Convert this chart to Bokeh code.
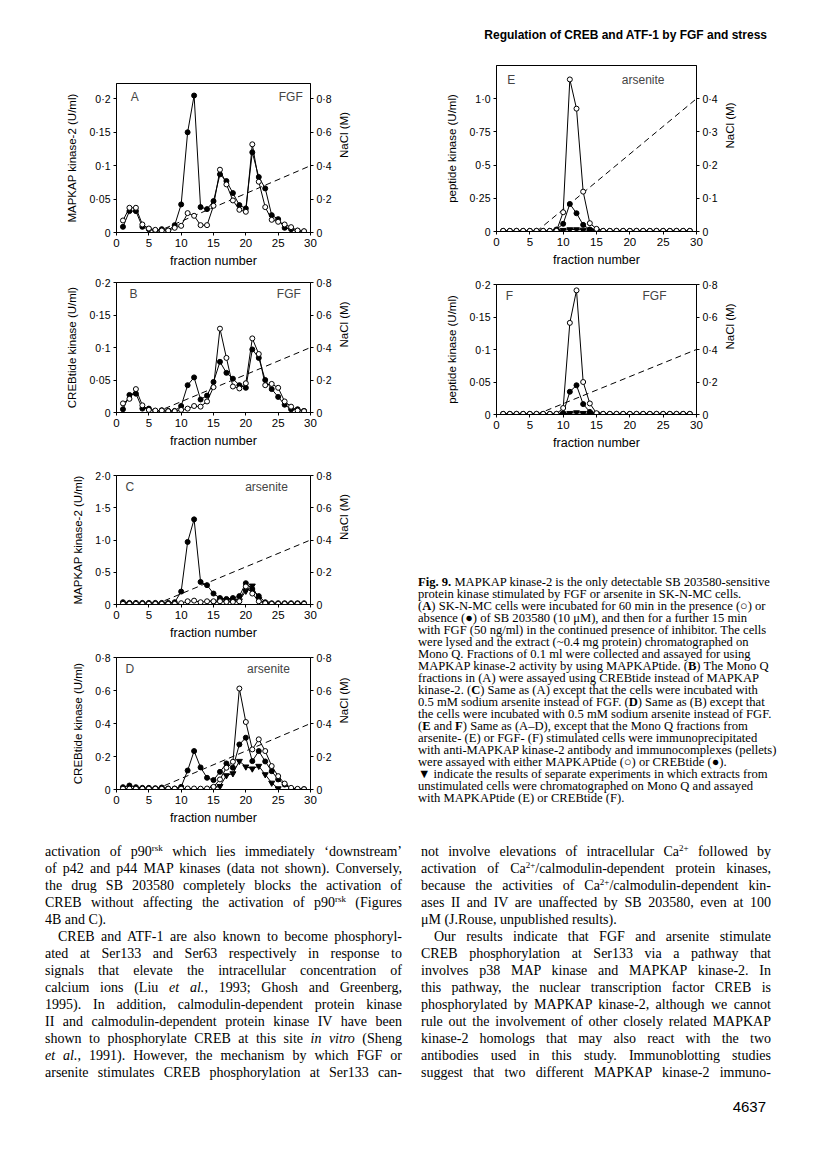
import math
from bokeh.plotting import figure
from bokeh.models import Range1d, LinearAxis, FixedTicker, Label, Div
from bokeh.layouts import column, row
from bokeh.embed import file_html
from bokeh.resources import INLINE

# ---------------- data ----------------
fractions = list(range(1, 30))
nacl_frac = [6, 30]
nacl_conc = [0.0, 0.4]

a_open = [0.018, 0.037, 0.037, 0.012, 0.006, 0.004, 0.003, 0.003, 0.007, 0.010,
          0.029, 0.025, 0.011, 0.011, 0.040, 0.094, 0.072, 0.048, 0.034, 0.031,
          0.132, 0.076, 0.038, 0.019, 0.016, 0.012, 0.008, 0.003, 0.002]
a_filled = [0.0085, 0.032, 0.032, 0.0085, 0.005, 0.003, 0.005, 0.003, 0.011, 0.042,
            0.150, 0.205, 0.038, 0.035, 0.047, 0.087, 0.077, 0.059, 0.041, 0.036,
            0.120, 0.083, 0.066, 0.026, 0.020, 0.007, 0.005, 0.0025, 0.0015]

b_open = [0.014, 0.021, 0.036, 0.011, 0.004, 0.003, 0.003, 0.002, 0.002, 0.004,
          0.006, 0.010, 0.009, 0.017, 0.039, 0.129, 0.084, 0.040, 0.037, 0.045,
          0.114, 0.090, 0.042, 0.044, 0.038, 0.017, 0.009, 0.003, 0.002]
b_filled = [0.005, 0.027, 0.029, 0.006, 0.006, 0.0025, 0.0035, 0.0025, 0.0025, 0.010,
            0.042, 0.054, 0.020, 0.026, 0.047, 0.078, 0.061, 0.052, 0.042, 0.038,
            0.097, 0.084, 0.050, 0.036, 0.024, 0.012, 0.005, 0.005, 0.0025]

c_open = [0.01, 0.01, 0.01, 0.01, 0.01, 0.01, 0.01, 0.01, 0.01, 0.02,
          0.05, 0.06, 0.035, 0.05, 0.05, 0.05, 0.04, 0.04, 0.05, 0.28,
          0.17, 0.05, 0.02, 0.01, 0.01, 0.01, 0.01, 0.01, 0.01]
c_filled = [0.035, 0.025, 0.025, 0.025, 0.025, 0.025, 0.025, 0.025, 0.035, 0.20,
            0.97, 1.32, 0.35, 0.30, 0.17, 0.10, 0.086, 0.10, 0.13, 0.33,
            0.24, 0.13, 0.035, 0.02, 0.02, 0.02, 0.02, 0.02, 0.02]
c_tri_frac = [15, 16, 17, 18, 19, 20, 21, 22, 23]
c_tri = [0.03, 0.05, 0.05, 0.05, 0.06, 0.21, 0.29, 0.08, 0.02]

d_open = [0.005, 0.005, 0.005, 0.005, 0.005, 0.005, 0.005, 0.005, 0.005, 0.005,
          0.006, 0.006, 0.005, 0.006, 0.016, 0.061, 0.132, 0.168, 0.612, 0.409,
          0.243, 0.304, 0.233, 0.142, 0.081, 0.036, 0.010, 0.004, 0.002]
d_filled = [0.014, 0.024, 0.014, 0.010, 0.010, 0.008, 0.012, 0.006, 0.006, 0.016,
            0.115, 0.233, 0.134, 0.071, 0.057, 0.107, 0.158, 0.132, 0.273, 0.314,
            0.172, 0.233, 0.170, 0.111, 0.061, 0.030, 0.004, 0.002, 0.002]
d_tri_frac = [15, 16, 17, 18, 19, 20, 21, 22, 23, 24, 25]
d_tri = [0.01, 0.02, 0.085, 0.097, 0.172, 0.138, 0.126, 0.142, 0.091, 0.04, 0.006]

e_open = [0.005, 0.005, 0.005, 0.005, 0.005, 0.005, 0.005, 0.005, 0.005, 0.145,
          1.145, 0.925, 0.30, 0.0625, 0.02, 0.005, 0.005, 0.005, 0.005, 0.005,
          0.005, 0.005, 0.005, 0.005, 0.005, 0.005, 0.005, 0.005, 0.005]
e_filled = [0.005, 0.005, 0.005, 0.005, 0.005, 0.005, 0.005, 0.005, 0.015, 0.058,
            0.2075, 0.1375, 0.05, 0.015, 0.015, 0.005, 0.005, 0.005, 0.005, 0.005,
            0.005, 0.005, 0.005, 0.005, 0.005, 0.005, 0.005, 0.005, 0.005]
e_tri_frac = [9, 10, 11, 12, 13, 14, 15]
e_tri = [0.005, 0.01, 0.015, 0.015, 0.012, 0.01, 0.005]

f_open = [0.001, 0.001, 0.001, 0.001, 0.001, 0.001, 0.001, 0.001, 0.001, 0.010,
          0.141, 0.191, 0.050, 0.017, 0.002, 0.001, 0.001, 0.001, 0.001, 0.001,
          0.001, 0.001, 0.001, 0.001, 0.001, 0.001, 0.001, 0.001, 0.001]
f_filled = [0.001, 0.001, 0.001, 0.001, 0.001, 0.001, 0.001, 0.001, 0.001, 0.002,
            0.035, 0.045, 0.016, 0.004, 0.001, 0.001, 0.001, 0.001, 0.001, 0.001,
            0.001, 0.001, 0.001, 0.001, 0.001, 0.001, 0.001, 0.001, 0.001]
f_tri_frac = [10, 11, 12, 13, 14, 15]
f_tri = [0.001, 0.002, 0.003, 0.002, 0.002, 0.001]

x_ticks = [0, 5, 10, 15, 20, 25, 30]
ticks_02 = [0, 0.05, 0.1, 0.15, 0.2]
labels_02 = ["0", "0·05", "0·1", "0·15", "0·2"]
ticks_20 = [0, 0.5, 1.0, 1.5, 2.0]
labels_20 = ["0", "0·5", "1·0", "1·5", "2·0"]
ticks_08 = [0, 0.2, 0.4, 0.6, 0.8]
labels_08 = ["0", "0·2", "0·4", "0·6", "0·8"]
ticks_e = [0, 0.25, 0.5, 0.75, 1.0]
labels_e = ["0", "0·25", "0·5", "0·75", "1·0"]
ticks_e_r = [0, 0.1, 0.2, 0.3, 0.4]
labels_e_r = ["0", "0·1", "0·2", "0·3", "0·4"]

SANS = "Liberation Sans"


def style_axis(ax):
    ax.axis_line_color = "black"
    ax.axis_line_width = 1
    ax.major_tick_line_color = "black"
    ax.major_tick_in = 0
    ax.major_tick_out = 3
    ax.minor_tick_in = 0
    ax.minor_tick_out = 0
    ax.major_label_text_font = SANS
    ax.major_label_text_font_size = "10.5px"
    ax.major_label_text_color = "black"
    ax.major_label_standoff = 3
    ax.axis_label_text_font = SANS
    ax.axis_label_text_font_style = "normal"
    ax.axis_label_text_font_size = "11.5px"
    ax.axis_label_text_color = "black"
    ax.axis_label_standoff = 8


def make_panel(h, mb, ymax, nmax, yt, yl, nt, nl, ylab, letter, cond,
               letter_x, cond_x, opn, fil, tri_x=None, tri=None):
    left, right, top, bottom = mb
    p = figure(width=400, height=h, x_range=Range1d(0, 30), y_range=Range1d(0, ymax),
               output_backend="svg", toolbar_location=None,
               min_border_left=left, min_border_right=right,
               min_border_top=top, min_border_bottom=bottom)
    p.grid.visible = False
    p.outline_line_color = "black"
    p.outline_line_width = 1
    p.background_fill_color = "white"
    p.border_fill_color = "white"
    p.extra_y_ranges = {"nacl": Range1d(0, nmax)}

    p.xaxis.ticker = FixedTicker(ticks=x_ticks)
    p.xaxis.axis_label = "fraction number"
    p.yaxis.ticker = FixedTicker(ticks=yt)
    p.yaxis.major_label_overrides = dict(zip(yt, yl))
    p.yaxis.axis_label = ylab
    ra = LinearAxis(y_range_name="nacl", ticker=FixedTicker(ticks=nt),
                    major_label_overrides=dict(zip(nt, nl)), axis_label="NaCl (M)")
    p.add_layout(ra, "right")
    for ax in [p.xaxis[0], p.yaxis[0], ra]:
        style_axis(ax)
    p.xaxis.axis_label_text_font_size = "12.5px"
    p.xaxis.axis_label_standoff = 4
    p.xaxis.major_label_text_font_size = "11.5px"
    ra.axis_label_orientation = math.pi / 2
    ra.axis_label_standoff = 9

    p.line(nacl_frac, nacl_conc, y_range_name="nacl", line_color="black",
           line_width=1, line_dash="6 4")
    p.line(fractions, fil, line_color="black", line_width=1)
    p.line(fractions, opn, line_color="black", line_width=1)
    if tri is not None:
        p.line(tri_x, tri, line_color="black", line_width=1)
        p.scatter(tri_x, tri, marker="inverted_triangle", size=6,
                  fill_color="black", line_color="black")
    p.scatter(fractions, fil, marker="circle", size=5, fill_color="black",
              line_color="black")
    p.scatter(fractions, opn, marker="circle", size=5, fill_color="white",
              line_color="black", line_width=1)

    p.add_layout(Label(x=letter_x, y=0.91 * ymax, text=letter, text_font=SANS,
                       text_font_size="12px", text_baseline="middle", text_align="left"))
    p.add_layout(Label(x=cond_x, y=0.91 * ymax, text=cond, text_font=SANS,
                       text_font_size="12px", text_baseline="middle", text_align="right"))
    return p


pA = make_panel(218, (114, 89, 31, 38), 0.223, 0.892, ticks_02, labels_02, ticks_08, labels_08,
                "MAPKAP kinase-2 (U/ml)", "A", "FGF", 2.2, 28.8, a_open, a_filled)
pB = make_panel(180, (116, 84, 12, 35), 0.2, 0.8, ticks_02, labels_02, ticks_08, labels_08,
                "CREBtide kinase (U/ml)", "B", "FGF", 2.0, 28.5, b_open, b_filled)
pC = make_panel(192, (111, 89, 25, 35), 2.0, 0.8, ticks_20, labels_20, ticks_08, labels_08,
                "MAPKAP kinase-2 (U/ml)", "C", "arsenite", 1.4, 26.5, c_open, c_filled,
                c_tri_frac, c_tri)
pD = make_panel(190, (109, 90, 15, 43), 0.8, 0.8, ticks_08, labels_08, ticks_08, labels_08,
                "CREBtide kinase (U/ml)", "D", "arsenite", 1.4, 26.8, d_open, d_filled,
                d_tri_frac, d_tri)
pE = make_panel(218, (93, 104, 13, 39), 1.25, 0.5, ticks_e, labels_e, ticks_e_r, labels_e_r,
                "peptide kinase (U/ml)", "E", "arsenite", 1.6, 25.2, e_open, e_filled,
                e_tri_frac, e_tri)
pF = make_panel(182, (96, 104, 14, 36), 0.2, 0.8, ticks_02, labels_02, ticks_08, labels_08,
                "peptide kinase (U/ml)", "F", "FGF", 1.4, 25.5, f_open, f_filled,
                f_tri_frac, f_tri)

# ---------------- texts ----------------
header = Div(width=800, height=42, text=(
    '<div style="position:relative;width:800px;height:42px;">'
    '<span style="position:absolute;right:38px;top:23px;font-family:\'Liberation Sans\';'
    'font-weight:bold;font-size:12px;line-height:14px;white-space:nowrap;color:#000;">'
    'Regulation of CREB and ATF-1 by FGF and stress</span></div>'))

caption_lines = [
    "<b>Fig. 9.</b> MAPKAP kinase-2 is the only detectable SB 203580-sensitive",
    "protein kinase stimulated by FGF or arsenite in SK-N-MC cells.",
    "(<b>A</b>) SK-N-MC cells were incubated for 60 min in the presence (○) or",
    "absence (●) of SB 203580 (10 μM), and then for a further 15 min",
    "with FGF (50 ng/ml) in the continued presence of inhibitor. The cells",
    "were lysed and the extract (~0.4 mg protein) chromatographed on",
    "Mono Q. Fractions of 0.1 ml were collected and assayed for using",
    "MAPKAP kinase-2 activity by using MAPKAPtide. (<b>B</b>) The Mono Q",
    "fractions in (A) were assayed using CREBtide instead of MAPKAP",
    "kinase-2. (<b>C</b>) Same as (A) except that the cells were incubated with",
    "0.5 mM sodium arsenite instead of FGF. (<b>D</b>) Same as (B) except that",
    "the cells were incubated with 0.5 mM sodium arsenite instead of FGF.",
    "(<b>E</b> and <b>F</b>) Same as (A–D), except that the Mono Q fractions from",
    "arsenite- (E) or FGF- (F) stimulated cells were immunoprecipitated",
    "with anti-MAPKAP kinase-2 antibody and immunocomplexes (pellets)",
    "were assayed with either MAPKAPtide (○) or CREBtide (●).",
    "▼ indicate the results of separate experiments in which extracts from",
    "unstimulated cells were chromatographed on Mono Q and assayed",
    "with MAPKAPtide (E) or CREBtide (F).",
]
cap_html = ''.join(
    f'<div style="height:12px;line-height:12px;white-space:nowrap;">{ln}</div>'
    for ln in caption_lines)
caption = Div(width=400, height=380, text=(
    '<div style="position:relative;width:400px;height:380px;">'
    '<div style="position:absolute;left:13px;top:119px;font-family:\'Liberation Serif\';'
    f'font-size:12.6px;color:#000;">{cap_html}</div></div>'))

left_lines = [
    "activation of p90<sup>rsk</sup> which lies immediately ‘downstream’",
    "of p42 and p44 MAP kinases (data not shown). Conversely,",
    "the drug SB 203580 completely blocks the activation of",
    "CREB without affecting the activation of p90<sup>rsk</sup> (Figures",
    "4B and C).",
    "CREB and ATF-1 are also known to become phosphoryl-",
    "ated at Ser133 and Ser63 respectively in response to",
    "signals that elevate the intracellular concentration of",
    "calcium ions (Liu <i>et al.</i>, 1993; Ghosh and Greenberg,",
    "1995). In addition, calmodulin-dependent protein kinase",
    "II and calmodulin-dependent protein kinase IV have been",
    "shown to phosphorylate CREB at this site <i>in vitro</i> (Sheng",
    "<i>et al.</i>, 1991). However, the mechanism by which FGF or",
    "arsenite stimulates CREB phosphorylation at Ser133 can-",
]
right_lines = [
    "not involve elevations of intracellular Ca<sup>2+</sup> followed by",
    "activation of Ca<sup>2+</sup>/calmodulin-dependent protein kinases,",
    "because the activities of Ca<sup>2+</sup>/calmodulin-dependent kin-",
    "ases II and IV are unaffected by SB 203580, even at 100",
    "μM (J.Rouse, unpublished results).",
    "Our results indicate that FGF and arsenite stimulate",
    "CREB phosphorylation at Ser133 via a pathway that",
    "involves p38 MAP kinase and MAPKAP kinase-2. In",
    "this pathway, the nuclear transcription factor CREB is",
    "phosphorylated by MAPKAP kinase-2, although we cannot",
    "rule out the involvement of other closely related MAPKAP",
    "kinase-2 homologs that may also react with the two",
    "antibodies used in this study. Immunoblotting studies",
    "suggest that two different MAPKAP kinase-2 immuno-",
]


def body_html(lines, last_idx, indent_idx):
    out = []
    for i, ln in enumerate(lines):
        al = "left" if i in last_idx else "justify"
        pad = "padding-left:13px;" if i in indent_idx else ""
        out.append(f'<div style="height:17px;line-height:17px;white-space:nowrap;'
                   f'text-align:{al};text-align-last:{al};{pad}">{ln}</div>')
    return ''.join(out)


sup_css = "<style>sup{font-size:9px;line-height:0;vertical-align:5px;}</style>"
body = Div(width=800, height=312, text=(
    sup_css +
    '<div style="position:relative;width:800px;height:312px;font-family:\'Liberation Serif\';'
    'font-size:14px;color:#000;">'
    f'<div style="position:absolute;left:40px;top:-4px;width:357px;">{body_html(left_lines, {4}, {5})}</div>'
    f'<div style="position:absolute;left:416px;top:-4px;width:350px;">{body_html(right_lines, {4}, {5})}</div>'
    '<span style="position:absolute;right:39px;top:251px;font-family:\'Liberation Sans\';'
    'font-size:15px;line-height:18px;">4637</span>'
    '</div>'))

page = column(header,
              row(column(pA, pB, pC, pD), column(pE, pF, caption)),
              body)

open("out.html", "w").write(file_html(page, INLINE))
